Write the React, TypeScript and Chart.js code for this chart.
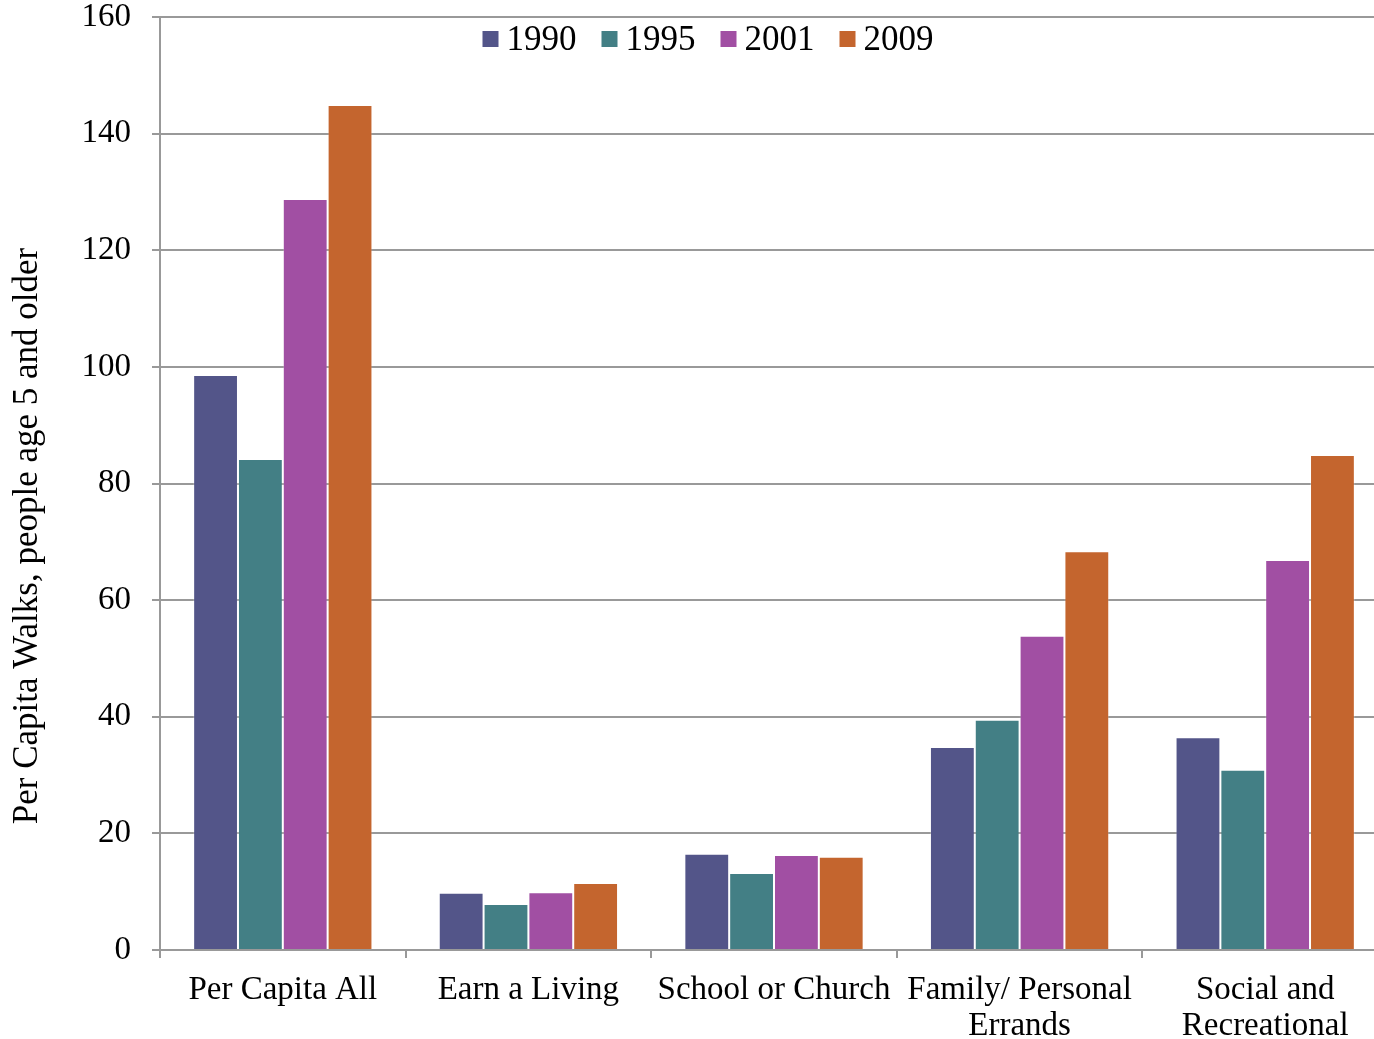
import React, { useEffect, useRef } from "react";
import { Chart, registerables } from "chart.js";

Chart.register(...registerables);

const categories: (string | string[])[] = [
  "Per Capita All",
  "Earn a Living",
  "School or Church",
  ["Family/ Personal", "Errands"],
  ["Social and", "Recreational"],
];
const seriesNames = ["1990", "1995", "2001", "2009"];
const values1990 = [98.6, 9.8, 16.5, 34.8, 36.5];
const values1995 = [84.2, 7.9, 13.2, 39.5, 30.9];
const values2001 = [128.8, 9.9, 16.3, 53.9, 66.9];
const values2009 = [144.9, 11.5, 16.0, 68.4, 84.9];
const seriesColors = ["#535589", "#437f85", "#a14fa3", "#c4652e"];
const yTitle = "Per Capita Walks, people age 5 and older";
const yMin = 0;
const yMax = 160;
const yStep = 20;

const FONT = "'Liberation Serif', 'Times New Roman', serif";

const legendPlugin = {
  id: "insideLegend",
  afterDraw(chart: any) {
    const ctx = chart.ctx;
    ctx.save();
    ctx.font = `35px ${FONT}`;
    ctx.textBaseline = "middle";
    ctx.textAlign = "left";
    const box = 16;
    const gapBoxText = 8;
    const gapItems = 25;
    const items = chart.data.datasets.map((d: any) => ({
      label: d.label,
      color: d.backgroundColor,
      w: ctx.measureText(d.label).width,
    }));
    const total =
      items.reduce((s: number, it: any) => s + box + gapBoxText + it.w, 0) +
      gapItems * (items.length - 1);
    let x = 708 - total / 2;
    const cy = 39;
    for (const it of items) {
      ctx.fillStyle = it.color;
      ctx.fillRect(x, cy - box / 2, box, box);
      x += box + gapBoxText;
      ctx.fillStyle = "#000";
      ctx.fillText(it.label, x, cy + 2);
      x += it.w + gapItems;
    }
    // y-axis title
    ctx.save();
    ctx.translate(28, 536);
    ctx.rotate(-Math.PI / 2);
    ctx.textAlign = "center";
    ctx.textBaseline = "middle";
    ctx.fillStyle = "#000";
    ctx.font = `35px ${FONT}`;
    ctx.fillText(yTitle, 0, 0);
    ctx.restore();
    ctx.restore();
  },
};

export default function App() {
  const ref = useRef<HTMLCanvasElement | null>(null);
  useEffect(() => {
    if (!ref.current) return;
    const all = [values1990, values1995, values2001, values2009];
    const chart = new Chart(ref.current, {
      type: "bar",
      data: {
        labels: categories,
        datasets: seriesNames.map((name, i) => ({
          label: name,
          data: all[i],
          backgroundColor: seriesColors[i],
          borderColor: "rgba(255,255,255,0.25)",
          borderWidth: 1,
          barPercentage: 1,
          categoryPercentage: 0.73,
        })),
      },
      options: {
        animation: false,
        responsive: false,
        layout: { padding: 0 },
        plugins: {
          legend: { display: false },
          tooltip: { enabled: false },
        },
        scales: {
          x: {
            grid: {
              display: true,
              drawOnChartArea: false,
              drawTicks: true,
              tickLength: 8,
              color: "#999",
              lineWidth: 2,
            },
            border: { display: true, color: "#999", width: 2 },
            ticks: {
              color: "#000",
              font: { family: FONT, size: 33, lineHeight: 1.1 },
              autoSkip: false,
              maxRotation: 0,
              minRotation: 0,
              padding: 14,
            },
            afterFit(scale: any) {
              scale.height = 89;
              scale.paddingRight = 0;
              scale.paddingLeft = 0;
            },
          },
          y: {
            min: yMin,
            max: yMax,
            grid: {
              color: "#999",
              lineWidth: 2,
              tickLength: 8,
              drawTicks: true,
            },
            border: { display: true, color: "#999", width: 2 },
            ticks: {
              stepSize: yStep,
              color: "#000",
              font: { family: FONT, size: 33 },
              padding: 21,
            },
            title: { display: false },
            afterFit(scale: any) {
              scale.width = 160;
              scale.paddingTop = 17;
              scale.paddingBottom = 0;
            },
          },
        },
      },
      plugins: [legendPlugin],
    });
    return () => chart.destroy();
  }, []);
  return (
    <div
      style={{
        position: "absolute",
        left: 0,
        top: 0,
        width: 1374,
        height: 1039,
        overflow: "hidden",
        background: "#fff",
      }}
    >
      <canvas ref={ref} width={1388} height={1039} style={{ display: "block" }} />
    </div>
  );
}
